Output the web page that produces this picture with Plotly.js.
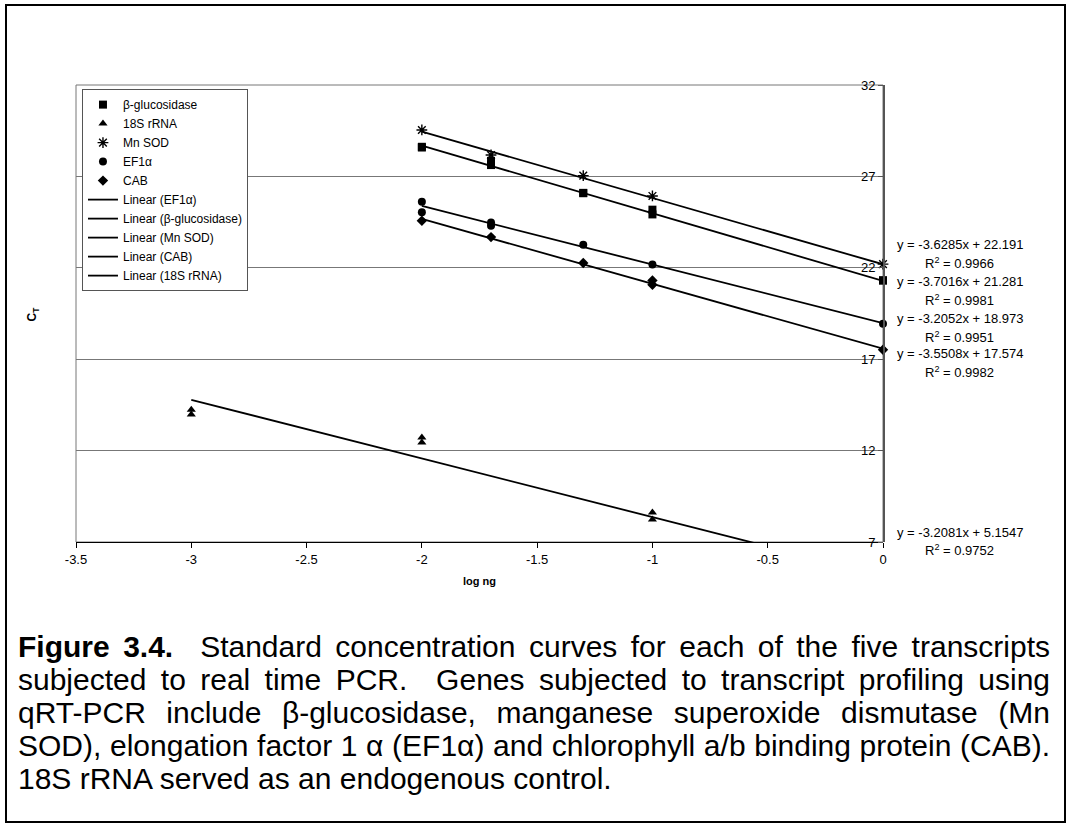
<!DOCTYPE html>
<html>
<head>
<meta charset="utf-8">
<script src="https://cdn.plot.ly/plotly-3.0.1.min.js"></script>
<style>
  html, body { margin: 0; padding: 0; background: #fff; }
  #wrap { position: relative; width: 1069px; height: 832px; overflow: hidden; }
  #chart { position: absolute; left: 0; top: 0; width: 1069px; height: 832px; }
  #frame { position: absolute; left: 5px; top: 4px; width: 1057px; height: 815px; border: 2px solid #000; pointer-events: none; }
  #caption { position: absolute; left: 18px; top: 630px; width: 1032px; font-family: "Liberation Sans", Arial, sans-serif; font-size: 30px; line-height: 33px; color: #000; }
  #caption div { text-align: justify; text-align-last: justify; white-space: nowrap; }
  #caption div.last { text-align-last: left; }
</style>
</head>
<body>
<div id="wrap">
  <div id="chart"></div>
  <div id="frame"></div>
  <div id="caption">
    <div><b>Figure 3.4.</b>&nbsp; Standard concentration curves for each of the five transcripts</div>
    <div>subjected to real time PCR.&nbsp; Genes subjected to transcript profiling using</div>
    <div>qRT-PCR include β-glucosidase, manganese superoxide dismutase (Mn</div>
    <div>SOD), elongation factor 1 α (EF1α) and chlorophyll a/b binding protein (CAB).</div>
    <div class="last">18S rRNA served as an endogenous control.</div>
  </div>
</div>
<script>
// ---- data ----
const xTickVals = [-3.5, -3, -2.5, -2, -1.5, -1, -0.5, 0];
const xTickText = ["-3.5", "-3", "-2.5", "-2", "-1.5", "-1", "-0.5", "0"];
const yTickVals = [7, 12, 17, 22, 27, 32];
const yTickText = ["7", "12", "17", "22", "27", "32"];

const glucX = [-2, -2, -1.7, -1.7, -1.3, -1.3, -1, -1, 0, 0];
const glucY = [28.62, 28.58, 27.62, 27.85, 26.08, 26.1, 24.92, 25.18, 21.3, 21.32];

const rrnaX = [-3, -3, -2, -2, -1, -1];
const rrnaY = [14.24, 13.97, 12.71, 12.44, 8.61, 8.23];

const sodX = [-2, -1.7, -1.3, -1, 0];
const sodY = [29.54, 28.17, 27.04, 25.93, 22.2];

const efX = [-2, -2, -1.7, -1.7, -1.3, -1, 0];
const efY = [25.62, 25.04, 24.48, 24.3, 23.26, 22.18, 18.94];

const cabX = [-2, -1.7, -1.3, -1, -1, 0];
const cabY = [24.57, 23.68, 22.26, 21.31, 21.07, 17.52];

// linear fits (legend order)
const fitNames = ["EF1α", "β-glucosidase", "Mn SOD", "CAB", "18S rRNA"];
const fitSlopes = [-3.2052, -3.7016, -3.6285, -3.5508, -3.2081];
const fitIntercepts = [18.973, 21.281, 22.191, 17.574, 5.1547];
const fitR2 = ["0.9951", "0.9981", "0.9966", "0.9982", "0.9752"];
const fitXStart = [-2, -2, -2, -2, -3];
const fitXEnd = [0, 0, 0, 0, 0];

// ---- styling / placement ----
const FONT = "Liberation Sans, Arial, sans-serif";
const eqPos = [ [0.489, 0.449], [0.569, 0.5295], [0.650, 0.6105], [0.4135, 0.3726], [0.0197, -0.0175] ];

const markerTraces = [
  { name: "β-glucosidase", x: glucX, y: glucY, symbol: "square", size: 8 },
  { name: "18S rRNA", x: rrnaX, y: rrnaY, symbol: "triangle-up", size: 8 },
  { name: "Mn SOD", x: sodX, y: sodY, symbol: "asterisk-open", size: 9 },
  { name: "EF1α", x: efX, y: efY, symbol: "circle", size: 8 },
  { name: "CAB", x: cabX, y: cabY, symbol: "diamond", size: 8 }
].map(s => ({
  type: "scatter", mode: "markers", name: s.name, x: s.x, y: s.y, cliponaxis: false,
  marker: { symbol: s.symbol, size: s.size, color: "#000", line: { color: "#000", width: s.symbol === "asterisk-open" ? 1.4 : 0 } }
}));

const lineTraces = fitNames.map((n, i) => {
  const xs = [fitXStart[i], fitXEnd[i]];
  return {
    type: "scatter", mode: "lines", name: "Linear (" + n + ")",
    x: xs, y: xs.map(v => fitSlopes[i] * v + fitIntercepts[i]),
    line: { color: "#000", width: 1.8 }
  };
});

const annotations = fitNames.map((n, i) => [
  { xref: "paper", yref: "paper", x: 1.095, y: eqPos[i][0], xanchor: "center", yanchor: "middle", showarrow: false,
    text: "y = " + fitSlopes[i] + "x + " + fitIntercepts[i], font: { family: FONT, size: 13, color: "#000" } },
  { xref: "paper", yref: "paper", x: 1.095, y: eqPos[i][1], xanchor: "center", yanchor: "middle", showarrow: false,
    text: "R<sup>2</sup> = " + fitR2[i], font: { family: FONT, size: 13, color: "#000" } }
]).flat();

annotations.push({ xref: "paper", yref: "paper", x: 0.5, y: -0.0853, xanchor: "center", yanchor: "middle", showarrow: false,
  text: "<b>log ng</b>", font: { family: FONT, size: 11, color: "#000" } });
annotations.push({ xref: "paper", yref: "paper", x: -0.0533, y: 0.5, xanchor: "center", yanchor: "middle", showarrow: false,
  textangle: -90, text: "<b>C<sub>T</sub></b>", font: { family: FONT, size: 12, color: "#000" } });

const layout = {
  width: 1069, height: 832,
  margin: { l: 76, r: 186, t: 85, b: 290 },
  paper_bgcolor: "#fff", plot_bgcolor: "#fff",
  font: { family: FONT, size: 13, color: "#000" },
  showlegend: true,
  legend: {
    x: 0.0074, y: 0.991, xanchor: "left", yanchor: "top",
    bgcolor: "#fff", bordercolor: "#555", borderwidth: 1,
    font: { family: FONT, size: 12, color: "#000" },
    itemwidth: 30, traceorder: "normal", tracegroupgap: 0
  },
  xaxis: {
    range: [-3.5, 0], tickmode: "array", tickvals: xTickVals, ticktext: xTickText,
    showgrid: false, zeroline: false, showline: true, linecolor: "#000", linewidth: 1.2,
    ticks: "outside", ticklen: 5, tickcolor: "#000", tickwidth: 1,
    tickfont: { family: FONT, size: 13, color: "#000" }
  },
  yaxis: {
    range: [7, 32], anchor: "free", position: 1, side: "left",
    tickmode: "array", tickvals: yTickVals, ticktext: yTickText,
    showgrid: true, gridcolor: "#777", gridwidth: 1, zeroline: false,
    showline: true, linecolor: "#555", linewidth: 1.5,
    ticks: "outside", ticklen: 5, tickcolor: "#555", tickwidth: 1,
    tickfont: { family: FONT, size: 13, color: "#000" }
  },
  shapes: [
    { type: "rect", xref: "paper", yref: "paper", x0: 0, x1: 1, y0: 0, y1: 1, line: { color: "#777", width: 1 }, layer: "below" }
  ],
  annotations: annotations
};

Plotly.newPlot("chart", markerTraces.concat(lineTraces), layout, { displayModeBar: false, staticPlot: true });
</script>
</body>
</html>
